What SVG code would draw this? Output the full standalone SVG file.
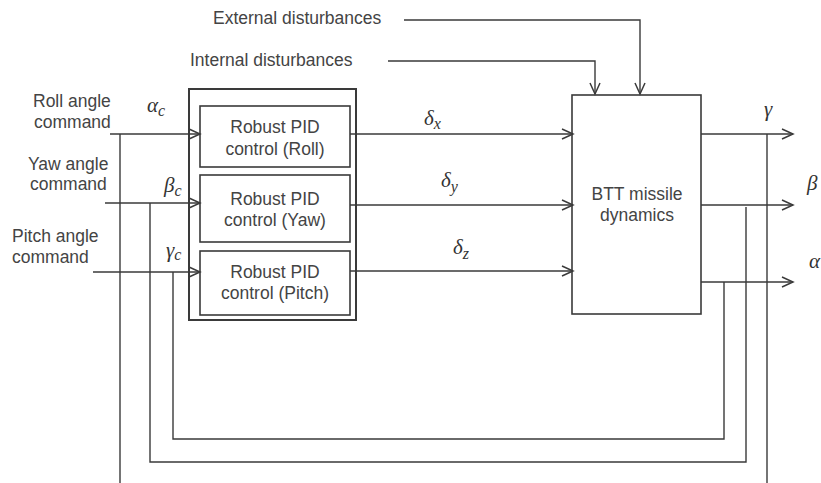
<svg xmlns="http://www.w3.org/2000/svg" width="821" height="483" viewBox="0 0 821 483">
  <style>
    .bg { fill: #ffffff; }
    .box { fill: none; stroke: #3a3a3a; stroke-width: 1.6; }
    .frame { fill: none; stroke: #3a3a3a; stroke-width: 2; }
    .wire { fill: none; stroke: #3a3a3a; stroke-width: 1.4; }
    .lbl { font-family: "Liberation Sans", Arial, sans-serif; font-size: 17.5px; fill: #444; }
    .mid { text-anchor: middle; }
    .math { font-family: "Liberation Serif", "Times New Roman", serif; font-style: italic; font-size: 21px; fill: #333; }
    .sub { font-size: 16px; }
  </style>
  <defs>
    <marker id="chev" markerUnits="userSpaceOnUse" markerWidth="14" markerHeight="14" refX="11" refY="6" orient="auto" overflow="visible">
      <path d="M0,1 L11,6 L0,11" fill="none" stroke="#3a3a3a" stroke-width="1.5"/>
    </marker>
  </defs>

  <rect class="bg" x="0" y="0" width="821" height="483"/>

  <!-- disturbance labels -->
  <g id="ext-dist">
    <text class="lbl" x="213" y="24">External disturbances</text>
  </g>
  <g id="int-dist">
    <text class="lbl" x="190" y="66">Internal disturbances</text>
  </g>

  <!-- command labels -->
  <g id="cmd-roll">
    <text class="lbl" x="33" y="107">Roll angle</text>
    <text class="lbl" x="34" y="128">command</text>
  </g>
  <g id="cmd-yaw">
    <text class="lbl" x="28" y="170">Yaw angle</text>
    <text class="lbl" x="30" y="190">command</text>
  </g>
  <g id="cmd-pitch">
    <text class="lbl" x="12" y="242">Pitch angle</text>
    <text class="lbl" x="12" y="263">command</text>
  </g>

  <!-- controller frame with three PID blocks -->
  <g id="ctrl-frame">
    <rect class="frame" x="189" y="89" width="167" height="231"/>
  </g>
  <g id="pid-roll">
    <rect class="box" x="200" y="106" width="150" height="61"/>
    <text class="lbl mid" x="275" y="133">Robust PID</text>
    <text class="lbl mid" x="275" y="155">control (Roll)</text>
  </g>
  <g id="pid-yaw">
    <rect class="box" x="200" y="175" width="150" height="67"/>
    <text class="lbl mid" x="275" y="205">Robust PID</text>
    <text class="lbl mid" x="275" y="226">control (Yaw)</text>
  </g>
  <g id="pid-pitch">
    <rect class="box" x="200" y="251" width="150" height="64"/>
    <text class="lbl mid" x="275" y="278">Robust PID</text>
    <text class="lbl mid" x="275" y="299">control (Pitch)</text>
  </g>

  <!-- plant -->
  <g id="btt">
    <rect class="box" x="572" y="95" width="129" height="219"/>
    <text class="lbl mid" x="637" y="200">BTT missile</text>
    <text class="lbl mid" x="637" y="221">dynamics</text>
  </g>

  <!-- signal symbols -->
  <g id="symbols">
    <text class="math" x="147" y="112">α<tspan class="sub" dy="4">c</tspan></text>
    <text class="math" x="164" y="192">β<tspan class="sub" dy="4">c</tspan></text>
    <text class="math" x="166" y="257">γ<tspan class="sub" dy="3">c</tspan></text>
    <text class="math" x="424" y="125">δ<tspan class="sub" dy="4">x</tspan></text>
    <text class="math" x="441" y="187">δ<tspan class="sub" dy="5">y</tspan></text>
    <text class="math" x="453" y="254">δ<tspan class="sub" dy="5">z</tspan></text>
    <text class="math" x="764" y="116">γ</text>
    <text class="math" x="807" y="190">β</text>
    <text class="math" x="809" y="268">α</text>
  </g>

  <g id="connectors">
    <!-- disturbances into plant -->
    <polyline class="wire" points="404,20 640,20 640,94" marker-end="url(#chev)"/>
    <polyline class="wire" points="388,61 595,61 595,94" marker-end="url(#chev)"/>

    <!-- commands into PID blocks -->
    <line class="wire" x1="110" y1="134" x2="200" y2="134" marker-end="url(#chev)"/>
    <line class="wire" x1="105" y1="203" x2="200" y2="203" marker-end="url(#chev)"/>
    <line class="wire" x1="93" y1="272" x2="200" y2="272" marker-end="url(#chev)"/>

    <!-- actuator commands into plant -->
    <line class="wire" x1="350" y1="134" x2="573" y2="134" marker-end="url(#chev)"/>
    <line class="wire" x1="350" y1="205" x2="573" y2="205" marker-end="url(#chev)"/>
    <line class="wire" x1="350" y1="271" x2="573" y2="271" marker-end="url(#chev)"/>

    <!-- plant outputs -->
    <line class="wire" x1="701" y1="134" x2="793" y2="134" marker-end="url(#chev)"/>
    <line class="wire" x1="701" y1="205" x2="793" y2="205" marker-end="url(#chev)"/>
    <line class="wire" x1="701" y1="282" x2="793" y2="282" marker-end="url(#chev)"/>

    <!-- feedback paths -->
    <line class="wire" x1="767" y1="134" x2="767" y2="483"/>
    <line class="wire" x1="120" y1="134" x2="120" y2="483"/>
    <polyline class="wire" points="746,207 746,462 150,462 150,203"/>
    <polyline class="wire" points="724,282 724,439 173,439 173,272"/>
  </g>
</svg>
